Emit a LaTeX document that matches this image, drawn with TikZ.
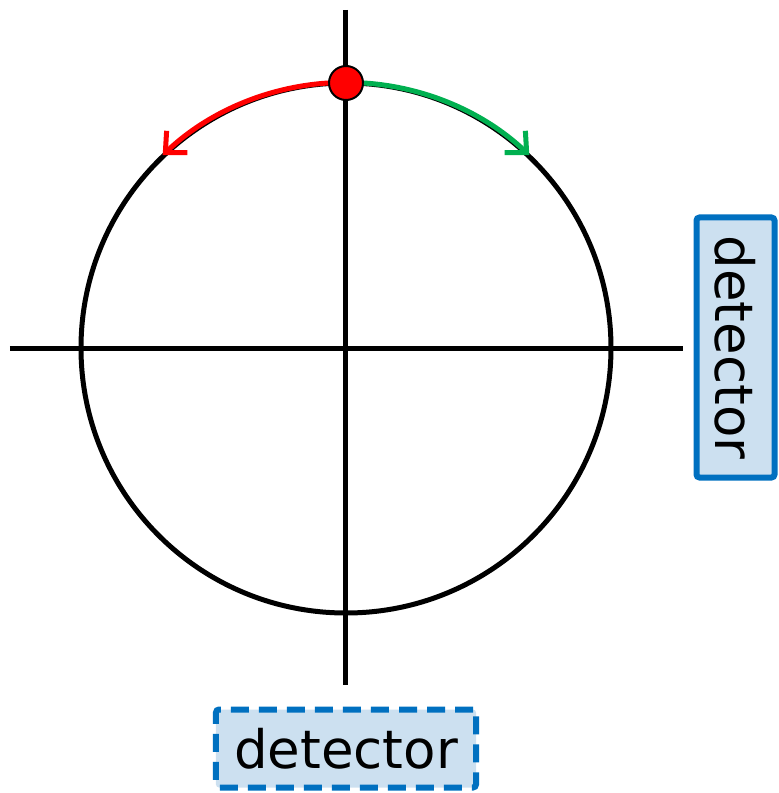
\documentclass[tikz,border=0pt]{standalone}
\usepackage{fontspec}
\setmainfont{DejaVu Sans}
\usetikzlibrary{positioning,arrows.meta,calc}
\definecolor{detblue}{HTML}{0070C0}
\definecolor{detfill}{HTML}{CCE0F0}
\definecolor{arcgreen}{HTML}{00B050}

\begin{document}
\begin{tikzpicture}[x=0.5pt,y=0.5pt,
  ax/.style={line width=2.5pt,black},
  det/.style={draw=detblue,fill=detfill,line width=3pt,rounded corners=1.5pt,
    minimum width=130pt,minimum height=39pt,inner sep=0pt,font=\fontsize{26.5}{30}\selectfont},
  turn/.style={line width=2.5pt,-{Straight Barb[length=8pt,width=15pt,line width=2.5pt]}}]
\def\R{265}
\useasboundingbox (-346,-445) rectangle (433,348);
\coordinate (o) at (0,0);
% axes and the circle
\draw[ax] (-336,0)--(337,0);
\draw[ax] (0,338)--(0,-337);
\draw[ax] (o) circle[radius=\R];
% state on top, turning both ways
\node[circle,draw=black,line width=1pt,fill=red,minimum size=17pt,inner sep=0pt] (spin) at (90:\R) {};
\draw[turn,red] (spin.west) arc[start angle=93.7,end angle=133.5,radius=\R];
\draw[turn,arcgreen] (spin.east) arc[start angle=86.3,end angle=46.5,radius=\R];
% the two detectors
\node[det,rotate=-90] (detR) at (389.5,0.5) {detector};
\node[det,dashed,dash pattern=on 9pt off 5pt] (detB) at (0,-400.5) {detector};
\end{tikzpicture}
\end{document}
